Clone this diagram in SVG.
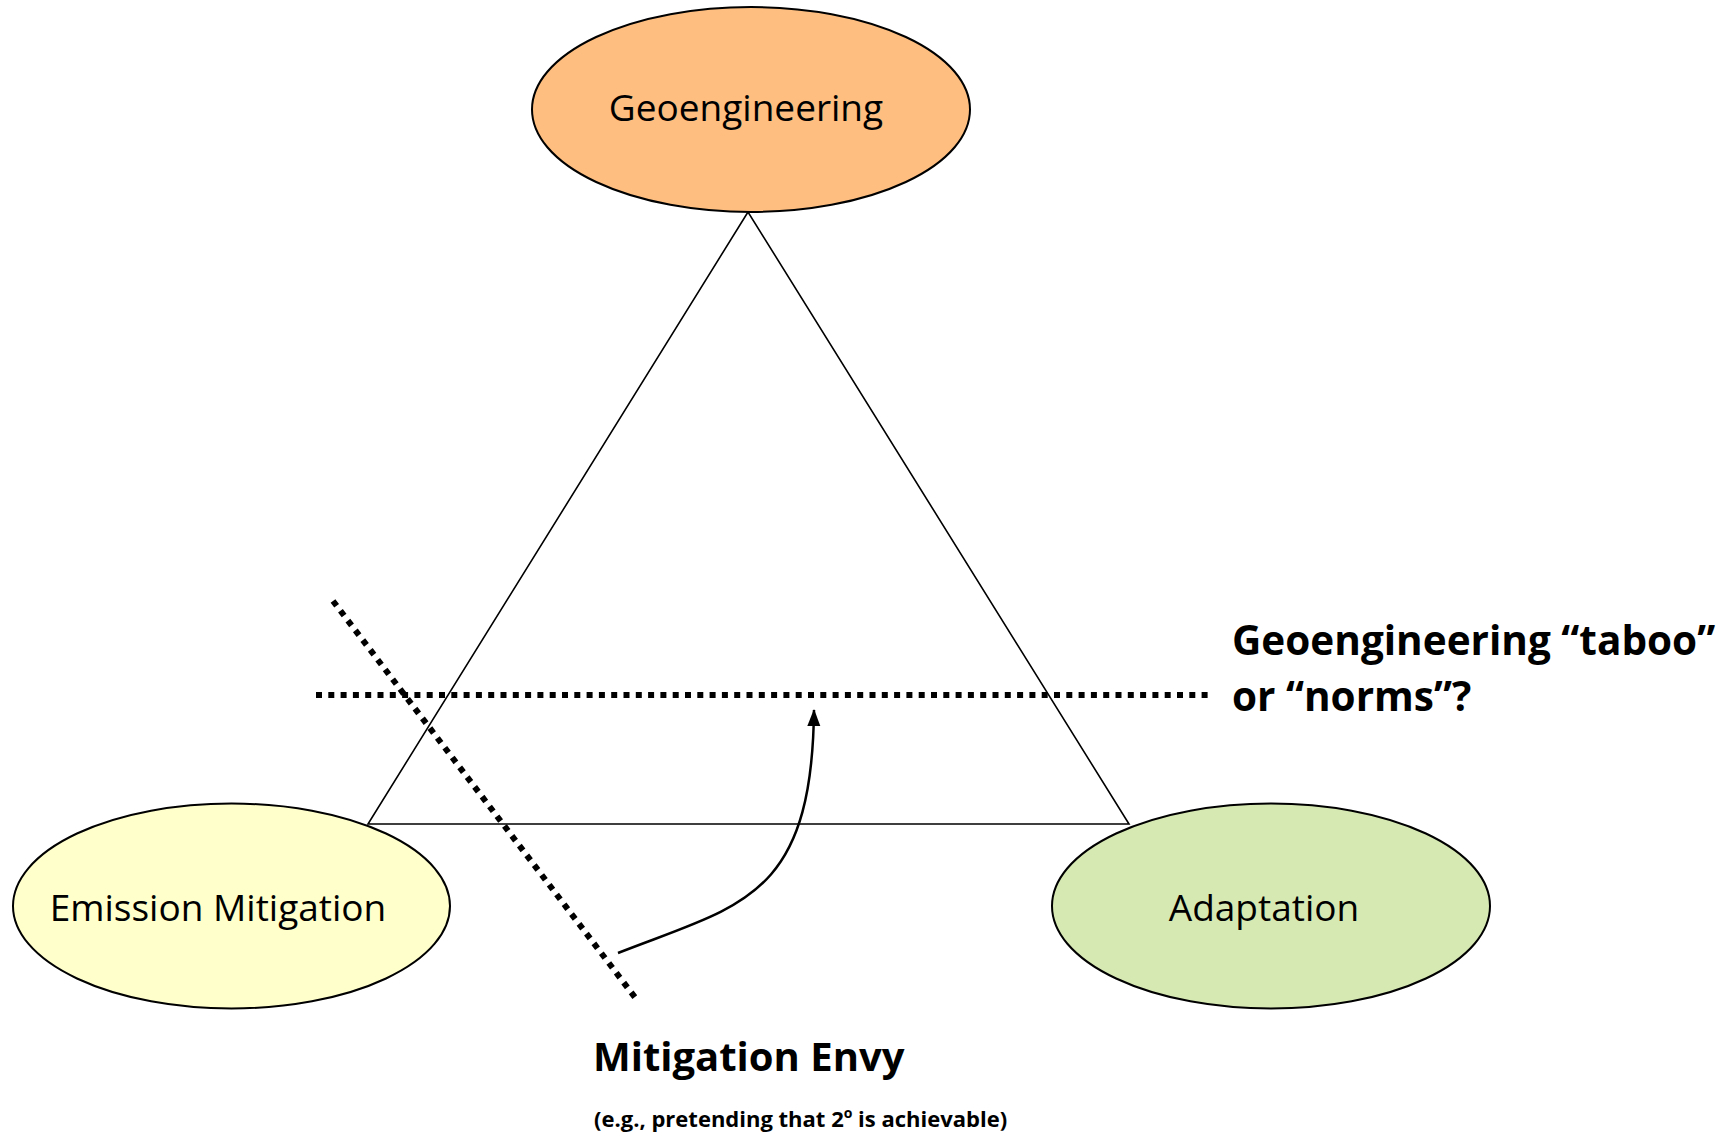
<svg xmlns="http://www.w3.org/2000/svg" width="1722" height="1133" viewBox="0 0 1722 1133">
<defs>
<style>
.node{stroke:#000;stroke-width:2}
.lbl{font-family:"Open Sans","Liberation Sans",sans-serif;font-size:37px;fill:#000;text-anchor:middle}
.bold{font-family:"Open Sans","Liberation Sans",sans-serif;font-weight:bold;fill:#000}
.tri{fill:none;stroke:#000;stroke-width:1.6}
.dots{fill:none;stroke:#000;stroke-width:6;stroke-dasharray:6 6.3}
.arrow{fill:none;stroke:#000;stroke-width:2.5}
</style>
<marker id="ah" markerWidth="18" markerHeight="14" refX="16" refY="6.5" orient="auto" markerUnits="userSpaceOnUse">
<path d="M0,0 L17,6.5 L0,13 Z" fill="#000"/>
</marker>
</defs>
<rect width="1722" height="1133" fill="#fff"/>
<g id="connectors">
<path class="tri" d="M748,212 L368,824 L1129,824 Z"/>
<line class="dots" x1="316" y1="695" x2="1208" y2="695"/>
<line class="dots" x1="333" y1="601" x2="637" y2="1000"/>
<path class="arrow" d="M618,953 C740,905 812,900 814,710" marker-end="url(#ah)"/>
</g>
<g id="geoengineering">
<ellipse class="node" cx="751" cy="109.5" rx="219" ry="102.5" fill="#FDBE80"/>
<text class="lbl" x="746" y="121">Geoengineering</text>
</g>
<g id="emission-mitigation">
<ellipse class="node" cx="231.5" cy="906" rx="218.5" ry="102.5" fill="#FFFFCC"/>
<text class="lbl" x="218" y="921">Emission Mitigation</text>
</g>
<g id="adaptation">
<ellipse class="node" cx="1271" cy="906" rx="219" ry="102.5" fill="#D7E9B3"/>
<text class="lbl" x="1264" y="921">Adaptation</text>
</g>
<g id="taboo-label">
<text class="bold" font-size="40.5" x="1232" y="655">Geoengineering “taboo”</text>
<text class="bold" font-size="40.5" x="1232" y="711">or “norms”?</text>
</g>
<g id="mitigation-envy-label">
<text class="bold" font-size="40" x="593" y="1071">Mitigation Envy</text>
<text class="bold" font-size="22" x="594" y="1127">(e.g., pretending that 2<tspan font-size="14" dy="-9">o</tspan><tspan dy="9"> is achievable)</tspan></text>
</g>
</svg>
